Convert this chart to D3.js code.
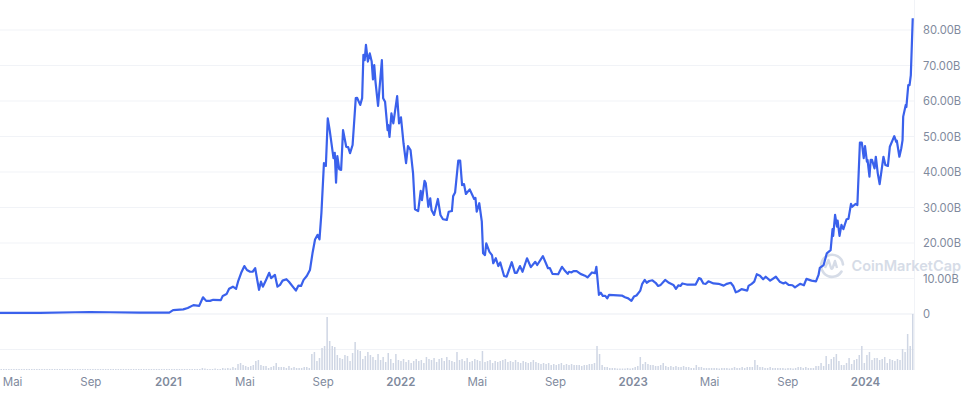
<!DOCTYPE html>
<html>
<head>
<meta charset="utf-8">
<script src="https://cdn.jsdelivr.net/npm/d3@7"></script>
<style>
  html, body { margin: 0; padding: 0; background: #fff; overflow: hidden; }
  text { font-family: Inter, "Noto Sans", sans-serif; }
</style>
</head>
<body>
<div id="chart"></div>
<script>
// market cap readings: days since 2021-01-01 and value in billions
const capDays = [
  -264,-201,-146,-123,-91,-44,2,8,24,31,40,49,55,60,66,71,83,86,92,96,102,107,110,115,120,124,129,133,137,140,143,146,149,154,159,162,168,172,176,180,186,190,201,205,209,213,218,223,227,231,235,238,241,245,248,251,254,260,262,264,266,269,272,275,280,283,286,290,295,297,302,305,307,309,311,314,317,320,322,324,326,330,336,338,341,345,346,348,351,354,360,363,366,370,374,377,381,385,388,393,397,399,403,405,409,412,414,418,424,428,432,438,441,446,448,451,456,459,462,465,468,474,481,483,485,489,493,495,498,500,505,509,511,515,519,522,528,532,540,545,548,553,557,564,570,577,580,589,597,600,604,613,619,624,628,630,634,637,642,648,655,659,666,671,673,677,680,683,687,690,693,713,718,723,728,732,736,742,745,749,752,756,761,766,770,774,781,787,794,798,802,805,808,815,820,829,834,837,841,845,849,857,865,873,878,884,888,892,896,901,910,912,917,921,925,930,935,939,946,955,961,967,970,975,981,985,993,999,1003,1011,1018,1022,1024,1030,1035,1041,1044,1045,1048,1051,1052,1055,1058,1061,1066,1069,1073,1075,1080,1083,1087,1090,1093,1095,1098,1099,1102,1104,1106,1110,1112,1115,1118,1124,1127,1131,1134,1141,1144,1145,1149,1152,1154,1155,1159,1160,1163,1165,1167,1170
];
const capValues = [
  0.3,0.3,0.5,0.55,0.5,0.4,0.4,1.1,1.3,1.7,2.5,2.3,4.7,3.7,3.7,4.0,3.9,5.1,5.6,7.1,7.7,7.1,9.1,11.6,13.5,12.4,11.9,11.9,12.9,9.8,6.8,9.1,7.7,9.6,11.6,10.1,11.0,7.7,8.2,9.4,9.8,9.1,6.6,8.0,7.9,9.6,10.7,12.4,17.1,21.0,22.3,21.0,28.4,42.5,41.7,55.1,51.8,43.9,45.4,37.0,44.5,40.8,40.6,51.8,47.1,47.0,45.3,47.6,60.8,60.9,58.9,60.8,73.0,71.5,75.8,71.1,73.4,71.1,66.1,70.1,65.4,58.6,71.5,60.8,59.8,51.8,53.2,49.9,56.5,53.7,61.4,53.7,55.4,48.1,42.5,47.3,46.2,39.6,29.5,29.0,34.7,32.1,37.5,36.8,30.2,32.6,29.3,27.9,32.4,27.9,26.7,26.5,28.8,29.0,33.2,34.2,43.2,43.2,36.3,36.6,33.8,35.1,32.4,32.7,28.8,31.2,26.0,17.1,16.6,19.9,17.5,16.6,14.3,15.7,13.5,14.5,10.7,10.5,14.6,11.6,11.6,13.5,11.9,15.7,13.2,14.7,13.8,16.3,12.9,12.9,11.3,11.2,13.3,12.1,11.3,11.9,11.7,12.1,12.1,11.3,10.8,10.3,11.7,11.5,13.3,5.4,6.0,5.1,5.1,4.4,5.4,5.2,4.7,4.4,3.7,4.9,5.2,6.6,8.5,9.6,8.8,9.3,9.5,8.8,7.9,8.2,9.6,8.8,8.2,7.1,8.1,7.9,8.6,8.3,8.3,8.3,10.1,9.9,8.6,8.5,9.2,8.6,8.5,8.0,8.5,8.8,7.9,6.1,6.4,7.0,6.6,7.9,8.5,9.1,11.2,10.8,9.8,10.5,9.4,10.5,9.1,8.6,8.9,8.2,8.1,7.5,8.5,8.1,9.9,9.4,9.2,11.0,13.0,13.8,17.1,18.0,23.9,22.0,27.9,24.6,26.3,22.0,25.1,23.9,26.7,26.8,31.0,30.2,31.0,30.7,48.3,48.3,43.9,47.3,42.9,43.4,38.7,43.4,43.4,41.0,44.3,39.7,36.6,44.3,42.0,41.7,47.1,50.1,48.5,48.8,44.3,46.7,49.0,55.6,58.9,58.3,64.5,64.5,67.3,83.3
];
// volume bars, one every 4 days starting 262 days before 2021
const volumeStartDay = -262;
const volumeStepDays = 4;
const volumeValues = [
  1,1,1,1,1,1,1,1,1,1,
  1,1,1,1,1,1,1,1,1,1,
  1,1,1,1,1,1,1,1,1,1,
  1,1,1,1,1,1,1,1,1,1,
  1,1,1,1,1,1,1,1,1,1,
  1,1,1,1,1,1,1,1,1,1,
  1,1,1,1,1,1,1,1,1,1,
  1,1,1,1,1,1,1,1,1,2,
  1.5,1,1,1,1.5,1,1,2,1.5,2,
  1.5,3,2,6,7,5,4,3,4,5,
  9,10,5,4,4,2,3,4,7,3,
  3,3,2,4,2,3,2,2,2,3,
  3,2,16,18,9,12,22,24,53,29,
  24,23,15,12,11,15,14,9,17,28,
  20,19,11,14,18,15,13,10,16,10,
  13,8,17,11,7,16,10,9,11,8,
  10,7,9,11,9,10,7,13,11,10,
  12,8,11,12,9,13,10,9,8,18,
  10,11,9,12,8,9,11,10,9,19,
  8,9,10,7,9,8,9,10,11,8,
  9,8,10,8,7,9,8,7,8,10,
  8,7,6,7,6,7,5,6,5,6,
  7,5,6,5,6,5,5,5,4,5,
  5,6,6,7,24,16,5,3,3,2,
  2,2,1.5,1.5,1.5,1.5,2,1.5,2,3,
  4,13,6,8,6,5,5,4,4,5,
  7,4,3,4,3,4,3,3,4,3,
  3,2,2,5,3,3,2,2,2,2,
  2,2,1.5,2,2,2,1.5,2,3,2,
  2,3,2,3,3,3,10,5,3,3,
  2,2,3,2,2,2,2,2,1.5,2,
  2,1.5,2,3,3,2,3,2,2,2,
  4,4,7,4,14,6,11,13,16,9,
  5,5,7,12,6,10,11,15,24,7,
  15,18,10,12,12,10,11,13,7,11,
  10,9,11,10,21,18,36,24,56
];
const capTicks = [0, 10, 20, 30, 40, 50, 60, 70, 80];
const volumeGrid = [20.5, 56];
const timeTicks = ["2020-05-01","2020-09-01","2021-01-01","2021-05-01","2021-09-01","2022-01-01","2022-05-01","2022-09-01","2023-01-01","2023-05-01","2023-09-01","2024-01-01"];
const timeLabels = ["Mai","Sep","2021","Mai","Sep","2022","Mai","Sep","2023","Mai","Sep","2024"];

const width = 970, height = 396;
const plotRight = 914;
const origin = new Date(2021, 0, 1);
const dayToDate = d => d3.timeDay.offset(origin, d);

const svg = d3.select("#chart").append("svg")
    .attr("width", width)
    .attr("height", height)
    .style("display", "block");

const x = d3.scaleTime()
    .domain([new Date(2021, 0, 1), new Date(2024, 0, 1)])
    .range([168, 865]);
const y = d3.scaleLinear().domain([0, 80]).range([314, 30]);
const yVol = d3.scaleLinear().domain([0, 56]).range([370, 314]);

// grid lines
svg.append("g").selectAll("line")
    .data(capTicks)
    .join("line")
    .attr("x1", 0).attr("x2", plotRight)
    .attr("y1", d => y(d)).attr("y2", d => y(d))
    .attr("stroke", "#f1f3f7");

svg.append("g").selectAll("line")
    .data(volumeGrid)
    .join("line")
    .attr("x1", 0).attr("x2", plotRight)
    .attr("y1", d => yVol(d)).attr("y2", d => yVol(d))
    .attr("stroke", "#f1f3f7");

svg.append("line")
    .attr("x1", plotRight + 0.5).attr("x2", plotRight + 0.5)
    .attr("y1", 0).attr("y2", 370)
    .attr("stroke", "#f1f3f7");

// volume bars
svg.append("g").selectAll("rect")
    .data(volumeValues)
    .join("rect")
    .attr("x", (d, i) => x(dayToDate(volumeStartDay + i * volumeStepDays)) - 0.75)
    .attr("width", 1.5)
    .attr("y", d => yVol(d))
    .attr("height", d => yVol(0) - yVol(d))
    .attr("fill", "#cfd6e4");

// watermark
const mark = svg.append("g").attr("transform", "translate(832,265)");
mark.append("path")
    .attr("d", "M9.5,6.5 A11,11 0 1 1 11,-0.5")
    .attr("fill", "none")
    .attr("stroke", "#d6dce7")
    .attr("stroke-width", 2.6)
    .attr("stroke-linecap", "round");
mark.append("path")
    .attr("d", "M-7,3 L-3.5,-5 L-1,3 Q0,5 1,2 L3,-4 L5,3")
    .attr("fill", "none")
    .attr("stroke", "#d6dce7")
    .attr("stroke-width", 2.4)
    .attr("stroke-linejoin", "round");
svg.append("text")
    .attr("x", 851.5)
    .attr("y", 270.5)
    .attr("fill", "#d6dce7")
    .style("font-size", "14.5px")
    .style("font-weight", "600")
    .text("CoinMarketCap");

// market cap line
const points = capDays.map((d, i) => ({ date: dayToDate(d), value: capValues[i] }));
const line = d3.line()
    .x(d => x(d.date))
    .y(d => y(d.value));

svg.append("path")
    .datum(points)
    .attr("fill", "none")
    .attr("stroke", "#3a61ec")
    .attr("stroke-width", 2.2)
    .attr("stroke-linejoin", "round")
    .attr("d", line);

// y axis
const yAxis = svg.append("g")
    .attr("transform", `translate(${plotRight},0)`)
    .call(d3.axisRight(y)
        .tickValues(capTicks)
        .tickSize(0)
        .tickPadding(9)
        .tickFormat(d => d === 0 ? "0" : `${d.toFixed(2)}B`));
yAxis.select(".domain").remove();
yAxis.selectAll("text")
    .attr("fill", "#808a9d")
    .style("font-family", "Inter, sans-serif")
    .style("font-size", "11.2px");

// x axis
const tickDates = timeTicks.map(d => d3.timeParse("%Y-%m-%d")(d));
const xAxis = svg.append("g")
    .attr("transform", "translate(0,378)")
    .call(d3.axisBottom(x)
        .tickValues(tickDates)
        .tickSize(0)
        .tickPadding(0)
        .tickFormat((d, i) => timeLabels[i]));
xAxis.select(".domain").remove();
xAxis.selectAll("text")
    .attr("fill", "#808a9d")
    .style("font-family", "Inter, sans-serif")
    .style("font-size", "11.5px")
    .style("font-weight", (d, i) => /^\d/.test(timeLabels[i]) ? 600 : 400);
</script>
</body>
</html>
